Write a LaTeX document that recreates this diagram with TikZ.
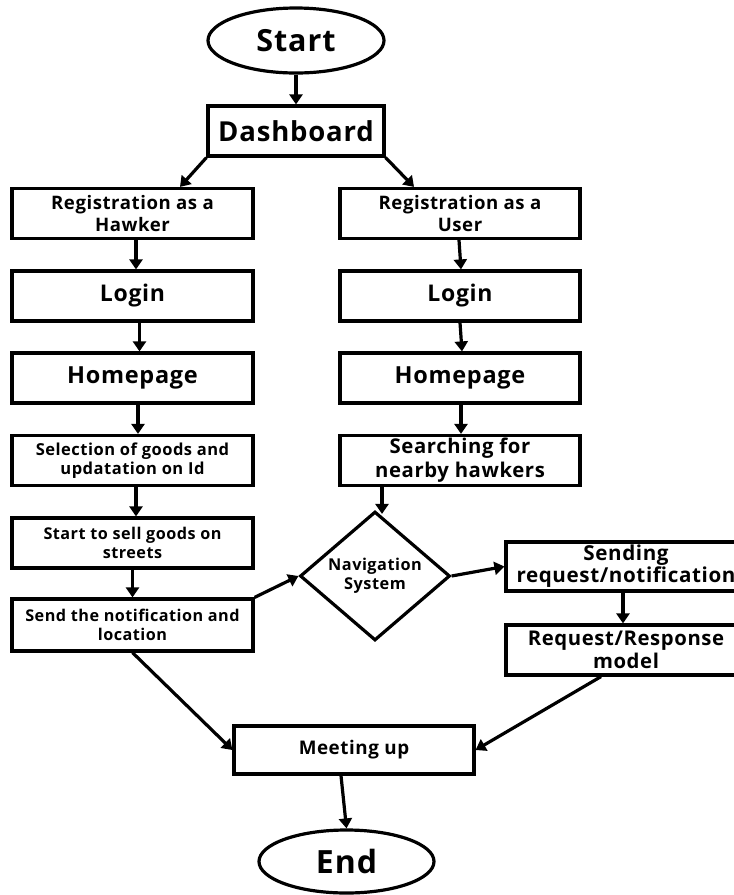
\documentclass[tikz,border=0pt]{standalone}
\usepackage{fontspec}
\setmainfont{Open Sans}
\newfontfamily\cs[LetterSpace=3]{Open Sans}
\usetikzlibrary{arrows.meta,shapes.geometric}
\begin{document}
\begin{tikzpicture}[x=1pt,y=-1pt,
  lw/.style={line width=3.2pt},
  box/.style={draw,lw,rectangle,inner sep=0pt,align=center,minimum width=241pt,minimum height=50pt},
  oval/.style={draw,lw,ellipse,inner sep=0pt},
  arr/.style={lw,-{Triangle[width=13pt,length=10pt]}},
  fs/.style n args={2}{font={\cs\bfseries\fontsize{#1}{#2}\selectfont}}
]
\useasboundingbox (0,0) rectangle (734,895);
\clip (0,0) rectangle (734,895);
\fill[white] (0,0) rectangle (734,895);
% top
\node[oval,minimum width=176pt,minimum height=65pt,fs={30.5}{32}] (start) at (296,40.5) {Start};
\node[box,minimum width=176pt,fs={27.5}{30}] (dash) at (296,131) {Dashboard};
% left column
\node[box,fs={18.6}{21.5}] (rh) at (132.5,213.5) {Registration as a\\Hawker};
\node[box,fs={23}{25}] (lh) at (132.5,296) {Login};
\node[box,fs={23.5}{25}] (hh) at (132.5,378) {Homepage};
\node[box,fs={16.5}{19}] (sel) at (132.5,460.5) {Selection of goods and\\updatation on Id};
\node[box,fs={16.2}{19}] (sell) at (132.5,543) {Start to sell goods on\\streets};
\node[box,minimum height=52pt,fs={16.2}{19}] (send) at (132.5,625) {Send the notification and\\location};
% right column
\node[box,minimum width=240pt,fs={18.6}{21.5}] (ru) at (460,213.5) {Registration as a\\User};
\node[box,minimum width=240pt,fs={23}{25}] (lu) at (460,296) {Login};
\node[box,minimum width=240pt,fs={23.5}{25}] (hu) at (460,378) {Homepage};
\node[box,minimum width=240pt,fs={20.3}{24}] (srch) at (460,460.5) {Searching for\\nearby hawkers};
% diamond
\node[draw,lw,diamond,inner sep=0pt,minimum width=150pt,minimum height=115pt,align=center,fs={16.3}{19}] (dia) at (375,576) {Navigation\\System};
% right side
\node[box,minimum width=240pt,minimum height=49pt,fs={20.6}{22}] (sendreq) at (626,566.5) {Sending\\request/notification};
\node[box,minimum width=240pt,fs={20.3}{23}] (rr) at (626,650) {Request/Response\\model};
% bottom
\node[box,minimum width=240pt,minimum height=48pt,fs={18.8}{20}] (meet) at (354,750) {\raisebox{4pt}{Meeting up}};
\node[oval,minimum width=175pt,minimum height=63pt,fs={32}{34}] (end) at (346.5,861.5) {End};
% connectors
\draw[arr] (start.south) -- (dash.north);
\draw[arr] (dash.south west) -- ([xshift=47.5pt]rh.north);
\draw[arr] (dash.south east) -- ([xshift=-46pt]ru.north);
\draw[arr] ([xshift=3.5pt]rh.south) -- ([xshift=3.5pt]lh.north);
\draw[arr] ([xshift=7pt]lh.south) -- ([xshift=7pt]hh.north);
\draw[arr] ([xshift=5.5pt]hh.south) -- ([xshift=5.5pt]sel.north);
\draw[arr] ([xshift=3.5pt]sel.south) -- ([xshift=3.5pt]sell.north);
\draw[arr] ([xshift=0pt]sell.south) -- ([xshift=0pt]send.north);
\draw[arr] ([xshift=-1pt]ru.south) -- ([xshift=1pt]lu.north);
\draw[arr] ([xshift=0pt]lu.south) -- ([xshift=2pt]hu.north);
\draw[arr] ([xshift=1pt]hu.south) -- ([xshift=1pt]srch.north);
\draw[arr] ([xshift=-78pt]srch.south) -- ([xshift=7pt,yshift=-4pt]dia.north);
\draw[arr] (dia.east) -- (sendreq.west);
\draw[arr] ([xshift=-3pt]sendreq.south) -- ([xshift=-3pt]rr.north);
\draw[arr] (send.north east) -- (dia.west);
\draw[arr] (send.south) -- (meet.west);
\draw[arr] ([xshift=-25pt]rr.south) -- (meet.east);
\draw[arr] ([xshift=-13pt]meet.south) -- (end.north);
\end{tikzpicture}
\end{document}
